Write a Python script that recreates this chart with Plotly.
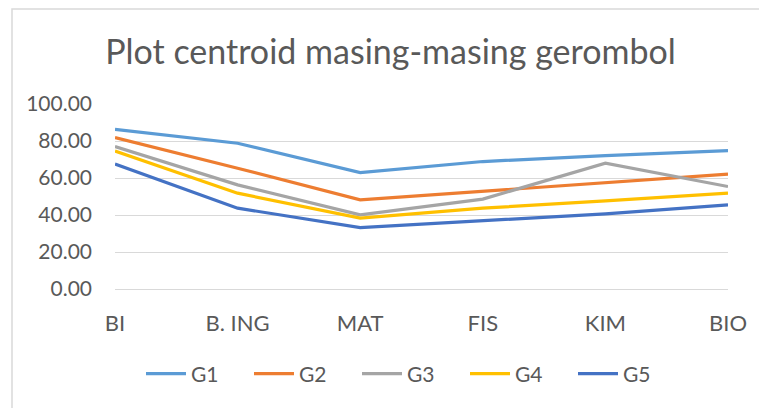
import plotly.graph_objects as go

categories = ["BI", "B. ING", "MAT", "FIS", "KIM", "BIO"]
series_names = ["G1", "G2", "G3", "G4", "G5"]
g1 = [86.3, 78.8, 62.9, 68.9, 72.1, 74.8]
g2 = [81.8, 65.3, 48.2, 52.7, 57.2, 62.1]
g3 = [77.0, 56.3, 40.1, 48.6, 68.0, 55.4]
g4 = [74.6, 51.8, 38.3, 43.7, 47.6, 51.8]
g5 = [67.6, 43.7, 33.2, 36.9, 40.6, 45.5]
y_ticks = [0, 20, 40, 60, 80, 100]
colors = ["#5B9BD5", "#ED7D31", "#A5A5A5", "#FFC000", "#4472C4"]

FONT = "Lato"
GREY = "#595959"

fig = go.Figure()
for name, vals, col in zip(series_names, [g1, g2, g3, g4, g5], colors):
    fig.add_trace(go.Scatter(x=categories, y=vals, name=name, mode="lines",
                             line=dict(color=col, width=3.2)))

W, H = 760, 408
L, R, T, B = 115, 32, 104, 119
pw, ph = W - L - R, H - T - B

def px_x(p):
    return (p - L) / pw

def px_y(p):
    return (H - B - p) / ph

fig.update_layout(
    width=W, height=H,
    margin=dict(l=L, r=R, t=T, b=B),
    paper_bgcolor="white", plot_bgcolor="white",
    font=dict(family=FONT, color=GREY, size=21),
    title=dict(text="Plot centroid masing-masing gerombol",
               font=dict(family=FONT, size=34, color=GREY),
               x=390.5 / W, xref="container", xanchor="center",
               y=1 - 52 / H, yref="container", yanchor="middle"),
    xaxis=dict(type="category", range=[0, 5], showgrid=False, zeroline=False,
               showline=False, ticks="", ticklabelstandoff=19,
               tickfont=dict(size=22, color=GREY)),
    yaxis=dict(range=[0, 100], tickvals=y_ticks, tickformat=".2f",
               showgrid=True, gridcolor="#D9D9D9", gridwidth=1,
               zeroline=True, zerolinecolor="#D9D9D9", zerolinewidth=1,
               showline=False, ticks="", ticklabelstandoff=22,
               tickfont=dict(size=21, color=GREY)),
    legend=dict(orientation="h", x=px_x(411), xanchor="center",
                y=px_y(374), yanchor="middle", font=dict(size=21, color=GREY),
                entrywidth=53, entrywidthmode="pixels",
                itemwidth=40, bgcolor="rgba(0,0,0,0)"),
    showlegend=True,
)

fig.add_shape(type="path", xref="paper", yref="paper",
              path=f"M {px_x(12)} {px_y(410)} L {px_x(12)} {px_y(9)} L {px_x(759)} {px_y(9)}",
              line=dict(color="#D9D9D9", width=1.5), layer="below")

fig.write_html("out.html",
               config={"displayModeBar": False},
               post_script="document.body.style.margin='0';document.body.style.overflow='hidden';")
